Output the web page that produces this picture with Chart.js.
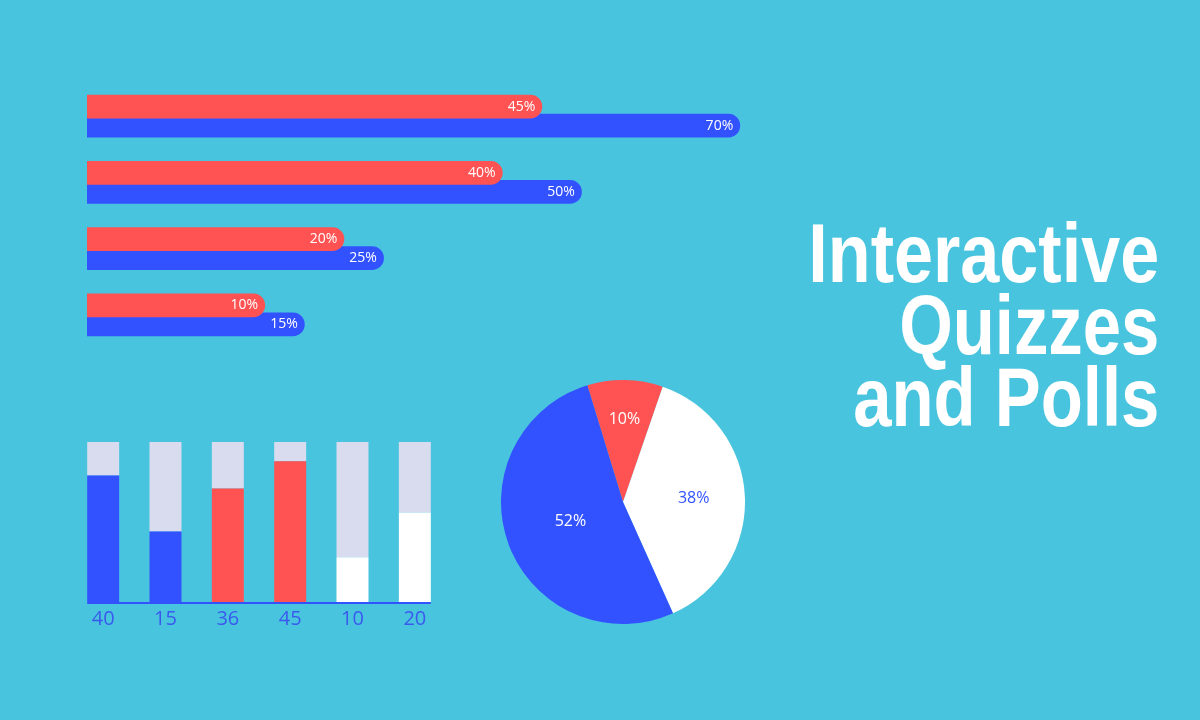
<!DOCTYPE html>
<html>
<head>
<meta charset="utf-8">
<script src="https://cdn.jsdelivr.net/npm/chart.js@4"></script>
<style>
  html, body { margin: 0; padding: 0; }
  body { width: 1200px; height: 720px; background: #49c4de; position: relative; overflow: hidden; }
  .box { position: absolute; }
  #quizBox { left: 87px; top: 83px; width: 673px; height: 265px; }
  #scoreBox { left: 72px; top: 442px; width: 374px; height: 194px; }
  #pollBox { left: 501px; top: 380px; width: 244px; height: 244px; }
  #title {
    position: absolute; right: 41px; top: 217px; width: 600px;
    font-family: "Liberation Sans", Arial, sans-serif;
    font-weight: bold; font-size: 84px; line-height: 72px;
    color: #fff; text-align: right;
  }
  #title div { height: 72px; white-space: nowrap; }
  #title span { display: inline-block; transform: scaleX(0.82); transform-origin: right center; }
  #title .l1 { transform: scaleX(0.835); }
</style>
</head>
<body>
<div class="box" id="quizBox"><canvas id="quizChart"></canvas></div>
<div class="box" id="scoreBox"><canvas id="scoreChart"></canvas></div>
<div class="box" id="pollBox"><canvas id="pollChart"></canvas></div>
<div id="title">
  <div><span class="l1">Interactive</span></div>
  <div><span>Quizzes</span></div>
  <div><span>and Polls</span></div>
</div>

<script>
// horizontal bars (percent)
var quizRows = ["Q1", "Q2", "Q3", "Q4"];
var quizRed = [45, 40, 20, 10];
var quizBlue = [70, 50, 25, 15];

// stacked columns (filled share of each column, percent)
var scoreLabels = ["40", "15", "36", "45", "10", "20"];
var scoreFilled = [79, 44, 71, 88, 28, 56];
var scoreRest = [21, 56, 29, 12, 72, 44];

// pie
var pollLabels = ["Red", "White", "Blue"];
var pollValues = [10, 38, 52];

var RED = "#ff5353";
var BLUE = "#3352ff";
var WHITE = "#ffffff";
var LAVENDER = "#d9dbef";
var LABEL_FONT = '"Open Sans", "Liberation Sans", sans-serif';

var scoreColors = [BLUE, BLUE, RED, RED, WHITE, WHITE];

// labels inside the bar ends
var barEndLabels = {
  id: "barEndLabels",
  afterDatasetsDraw: function (chart) {
    var ctx = chart.ctx;
    ctx.save();
    ctx.font = "14px " + LABEL_FONT;
    ctx.fillStyle = "#ffffff";
    ctx.textAlign = "right";
    ctx.textBaseline = "middle";
    // blue first, red over it
    for (var d = chart.data.datasets.length - 1; d >= 0; d--) {
      var meta = chart.getDatasetMeta(d);
      meta.data.forEach(function (bar, i) {
        ctx.fillText(chart.data.datasets[d].data[i] + "%", bar.x - 7, bar.y);
      });
    }
    ctx.restore();
  },
};

var quizChart = new Chart(document.getElementById("quizChart"), {
  type: "bar",
  data: {
    labels: quizRows,
    datasets: [
      {
        label: "Red",
        data: quizRed,
        backgroundColor: RED,
        base: -12.5,
        borderRadius: 12,
        borderSkipped: "start",
      },
      {
        label: "Blue",
        data: quizBlue,
        backgroundColor: BLUE,
        base: -12.5,
        borderRadius: 12,
        borderSkipped: "start",
      },
    ],
  },
  options: {
    indexAxis: "y",
    responsive: true,
    maintainAspectRatio: false,
    animation: false,
    categoryPercentage: 0.574,
    barPercentage: 1.24,
    layout: { padding: 0 },
    plugins: { legend: { display: false }, tooltip: { enabled: false } },
    scales: {
      x: { display: false, min: -12.5, max: 72.5 },
      y: { display: false },
    },
  },
  plugins: [barEndLabels],
});

// axis line under the columns
var columnBaseLine = {
  id: "columnBaseLine",
  afterDatasetsDraw: function (chart) {
    var bars = chart.getDatasetMeta(0).data;
    var first = bars[0];
    var last = bars[bars.length - 1];
    var ctx = chart.ctx;
    ctx.save();
    ctx.strokeStyle = BLUE;
    ctx.lineWidth = 2;
    ctx.beginPath();
    ctx.moveTo(first.x - first.width / 2, chart.chartArea.bottom + 1);
    ctx.lineTo(last.x + last.width / 2, chart.chartArea.bottom + 1);
    ctx.stroke();
    ctx.restore();
  },
};

var scoreChart = new Chart(document.getElementById("scoreChart"), {
  type: "bar",
  data: {
    labels: scoreLabels,
    datasets: [
      { label: "Filled", data: scoreFilled, backgroundColor: scoreColors },
      { label: "Rest", data: scoreRest, backgroundColor: LAVENDER },
    ],
  },
  options: {
    responsive: true,
    maintainAspectRatio: false,
    animation: false,
    categoryPercentage: 0.513,
    barPercentage: 1,
    layout: { padding: 0 },
    plugins: { legend: { display: false }, tooltip: { enabled: false } },
    scales: {
      x: {
        stacked: true,
        grid: { display: false, drawTicks: false },
        border: { display: false },
        ticks: {
          color: "#3a5aee",
          padding: 5,
          font: { family: LABEL_FONT, size: 20 },
        },
      },
      y: { stacked: true, display: false, min: 0, max: 100 },
    },
  },
  plugins: [columnBaseLine],
});

// slice labels
var sliceLabels = {
  id: "sliceLabels",
  afterDatasetsDraw: function (chart, args, opts) {
    var ctx = chart.ctx;
    ctx.save();
    ctx.font = "16px " + LABEL_FONT;
    ctx.textAlign = "center";
    ctx.textBaseline = "middle";
    chart.getDatasetMeta(0).data.forEach(function (arc, i) {
      var mid = (arc.startAngle + arc.endAngle) / 2;
      var r = arc.outerRadius * opts.radius[i];
      ctx.fillStyle = opts.colors[i];
      ctx.fillText(pollValues[i] + "%", arc.x + Math.cos(mid) * r, arc.y + Math.sin(mid) * r);
    });
    ctx.restore();
  },
};

var pollChart = new Chart(document.getElementById("pollChart"), {
  type: "pie",
  data: {
    labels: pollLabels,
    datasets: [
      {
        data: pollValues,
        backgroundColor: [RED, WHITE, BLUE],
        borderWidth: 0,
      },
    ],
  },
  options: {
    responsive: true,
    maintainAspectRatio: false,
    animation: false,
    rotation: -17,
    layout: { padding: 0 },
    plugins: {
      legend: { display: false },
      tooltip: { enabled: false },
      sliceLabels: { radius: [0.68, 0.58, 0.46], colors: [WHITE, BLUE, WHITE] },
    },
  },
  plugins: [sliceLabels],
});
</script>
</body>
</html>
